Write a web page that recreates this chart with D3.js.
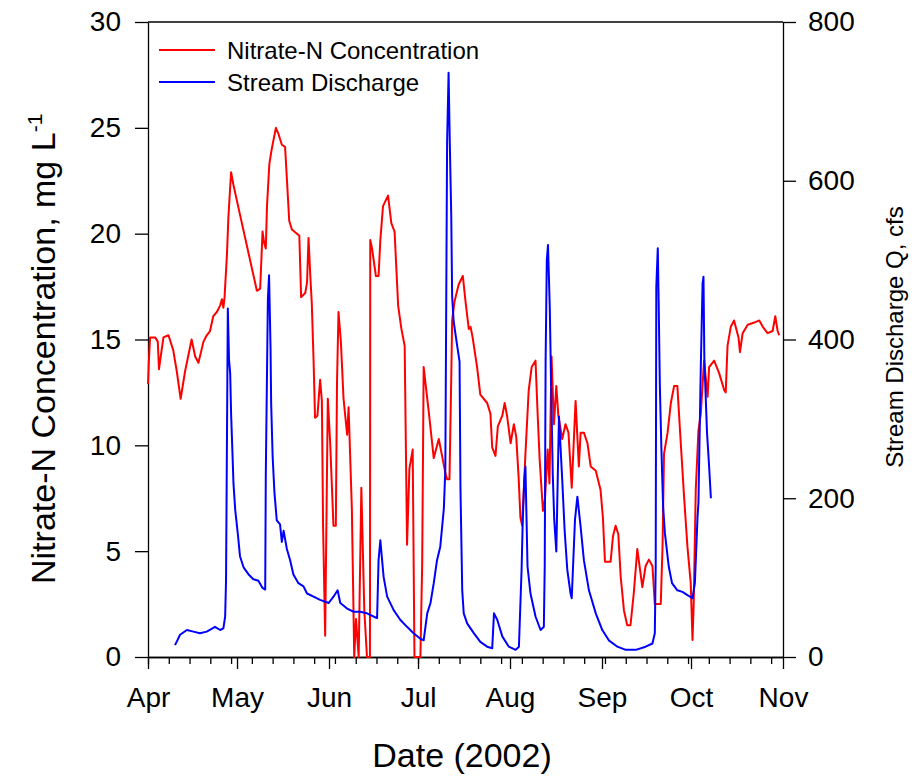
<!DOCTYPE html>
<html>
<head>
<meta charset="utf-8">
<script src="https://cdn.jsdelivr.net/npm/d3@7"></script>
<style>
  body { margin: 0; background: #fff; }
  svg text { font-family: "Liberation Sans", Arial, sans-serif; fill: #000; }
  .axis path, .axis line { stroke: #000; stroke-width: 1.3px; }
</style>
</head>
<body>
<div id="chart"></div>
<script>

// [day of year 2002, nitrate-N mg/L]
const nitrate = [
  [91.0,12.9],[91.3,14.0],[91.7,15.1],[93.4,15.1],[94.3,14.9],[94.7,13.6],[96.2,15.1],[97.9,15.2],
  [99.5,14.5],[100.7,13.5],[102.0,12.2],[103.5,13.5],[105.7,15.0],[106.9,14.2],[108.0,13.9],[109.7,14.9],
  [110.8,15.2],[111.9,15.4],[113.0,16.1],[114.2,16.3],[115.3,16.6],[115.9,16.9],[116.4,16.5],[116.8,17.0],
  [117.6,19.0],[118.1,20.8],[119.0,22.9],[119.8,22.3],[122.0,20.9],[125.0,19.0],[127.7,17.3],[128.8,17.4],
  [129.6,20.1],[130.1,19.6],[130.7,19.3],[131.1,21.3],[131.9,23.3],[132.7,24.0],[134.1,25.0],[135.0,24.7],
  [136.1,24.2],[137.2,24.1],[138.6,20.6],[139.5,20.2],[141.2,20.0],[142.0,19.9],[142.6,17.0],[144.0,17.2],
  [144.6,17.7],[145.1,19.8],[145.7,18.0],[146.2,16.7],[146.8,14.0],[147.3,11.3],[148.1,11.4],[149.0,13.1],
  [149.6,12.1],[150.0,6.2],[150.7,1.0],[151.6,12.2],[152.4,10.1],[153.5,6.2],[154.3,6.2],[154.7,13.0],
  [155.2,16.3],[156.0,14.9],[156.9,12.2],[158.1,10.5],[158.6,11.8],[159.7,7.0],[160.5,0.0],[161.1,1.8],
  [162.0,0.0],[162.9,8.0],[163.9,2.2],[164.8,0.0],[165.8,0.0],[165.9,19.7],[166.5,19.3],[167.8,18.0],
  [168.7,18.0],[169.3,19.7],[170.2,21.3],[171.9,21.8],[173.0,20.5],[174.1,20.1],[175.3,16.6],[176.4,15.5],
  [177.5,14.7],[178.3,5.3],[179.1,8.9],[180.2,9.8],[180.8,0.0],[182.8,0.0],[183.4,4.4],[183.9,13.7],
  [185.6,11.6],[187.3,9.4],[189.0,10.3],[190.1,9.5],[191.2,8.7],[191.8,8.4],[192.6,8.4],[193.2,13.2],
  [193.5,15.9],[194.3,16.8],[195.7,17.6],[197.1,18.0],[198.0,16.8],[199.1,15.5],[199.7,15.6],[200.4,15.1],
  [201.9,13.7],[203.0,12.4],[205.3,12.0],[206.4,11.5],[207.0,9.9],[208.1,9.5],[208.9,10.9],[210.4,11.4],
  [211.2,12.0],[212.0,11.4],[213.2,10.1],[214.3,11.0],[215.1,10.4],[215.9,8.5],[216.5,6.6],[217.1,6.2],
  [218.2,9.6],[219.3,12.6],[220.3,13.7],[221.6,14.0],[222.3,11.5],[223.0,9.3],[224.1,6.9],[224.8,7.5],
  [225.7,9.8],[226.3,8.2],[227.0,14.2],[227.8,11.0],[228.6,12.8],[229.3,11.4],[230.6,10.3],[231.7,11.0],
  [232.7,10.6],[233.8,8.0],[235.1,12.1],[236.2,9.0],[236.8,10.6],[237.9,10.6],[239.1,10.1],[240.2,9.0],
  [241.9,8.8],[243.5,7.9],[244.3,6.6],[245.0,4.5],[246.9,4.5],[247.7,5.7],[248.6,6.2],[249.5,5.8],
  [250.3,3.8],[251.4,2.2],[252.5,1.5],[253.6,1.5],[254.7,3.0],[255.9,5.1],[257.6,3.3],[258.7,4.3],
  [259.8,4.6],[261.0,4.3],[261.8,2.5],[263.8,2.5],[264.4,5.2],[264.9,9.6],[266.1,10.6],[267.2,12.0],
  [268.3,12.8],[269.4,12.8],[270.2,10.9],[271.6,7.7],[272.8,5.2],[273.9,3.5],[274.5,0.8],[274.9,2.5],
  [275.6,7.9],[276.5,10.7],[277.3,11.5],[278.4,14.0],[279.6,12.3],[280.1,13.7],[281.8,14.0],[283.5,13.4],
  [285.2,12.6],[285.7,12.5],[286.3,14.7],[287.4,15.6],[288.5,15.9],[290.0,15.1],[290.5,14.4],[291.4,15.3],
  [293.1,15.7],[295.3,15.8],[297.0,15.9],[298.2,15.6],[299.8,15.3],[301.5,15.4],[302.4,16.1],[303.2,15.4],
  [303.7,15.2]
];

// [day of year 2002, discharge cfs]
const discharge = [
  [100.1,15],[100.9,21],[101.8,28],[104.1,34],[106.3,32],[108.5,30],[110.8,32],[113.6,38],
  [115.3,34],[116.4,36],[117.0,51],[117.3,97],[117.9,439],[118.3,375],[118.7,357],[119.0,307],
  [119.5,253],[119.8,219],[120.4,185],[121.3,154],[122.0,127],[123.2,113],[124.9,104],[126.5,98],
  [128.2,96],[129.6,87],[130.5,85],[130.7,231],[131.4,451],[131.8,481],[132.3,388],[132.5,320],
  [133.0,253],[133.6,208],[134.4,172],[135.5,167],[136.1,145],[136.7,159],[137.8,136],[138.9,122],
  [140.0,104],[141.7,93],[143.4,89],[144.6,80],[146.8,76],[149.0,72],[151.9,68],[153.5,76],
  [154.9,84],[155.8,68],[158.1,61],[160.3,57],[162.5,57],[164.8,55],[167.0,51],[168.2,49],
  [168.7,122],[169.3,147],[170.4,101],[171.6,76],[173.8,59],[176.0,47],[178.3,38],[180.5,30],
  [182.8,23],[183.9,21],[185.1,55],[186.2,68],[187.3,93],[188.4,122],[189.5,139],[190.7,187],
  [191.2,236],[191.8,649],[192.3,736],[192.7,649],[193.2,556],[193.5,454],[194.0,423],[195.2,392],
  [196.0,372],[196.3,213],[196.9,84],[197.4,55],[198.6,42],[200.8,30],[203.0,19],[205.3,13],
  [207.0,11],[207.6,55],[208.7,47],[210.4,26],[212.6,13],[214.9,9],[216.0,13],[216.9,110],
  [217.3,173],[217.8,223],[218.2,240],[218.9,114],[219.9,80],[221.6,51],[223.3,34],[224.4,38],
  [224.7,114],[225.0,374],[225.4,500],[225.8,519],[226.4,441],[226.8,353],[227.4,231],[227.9,173],
  [228.6,133],[229.5,303],[230.6,223],[231.4,160],[232.3,110],[233.4,80],[233.8,74],[234.9,173],
  [235.7,202],[236.8,164],[237.9,122],[239.6,84],[241.9,55],[244.1,34],[246.3,21],[249.2,13],
  [252.0,9],[255.4,9],[258.7,13],[261.0,17],[261.8,30],[262.1,114],[262.3,466],[262.8,515],
  [263.1,446],[263.5,341],[264.0,265],[264.6,189],[265.2,156],[266.5,114],[267.6,93],[269.4,84],
  [271.1,82],[272.8,78],[274.5,74],[275.3,93],[276.2,177],[276.5,194],[277.3,366],[277.9,471],
  [278.2,479],[278.5,374],[279.4,282],[280.1,240],[280.7,200]
];

const nitrateTicks = [0, 5, 10, 15, 20, 25, 30];
const dischargeTicks = [0, 200, 400, 600, 800];
const seriesNames = ["Nitrate-N Concentration", "Stream Discharge"];
const seriesColors = ["#ff0000", "#0000ff"];


class DualAxisChart {

  constructor(_parentElement) {
    this.parentElement = _parentElement;
    this.initVis();
  }

  initVis() {
    let vis = this;

    vis.width = 916;
    vis.height = 776;
    vis.left = 148; vis.right = 783; vis.top = 22; vis.bottom = 657;

    vis.svg = d3.select(vis.parentElement).append("svg")
      .attr("width", vis.width)
      .attr("height", vis.height);

    vis.start = new Date(Date.UTC(2002, 3, 1));
    vis.end = new Date(Date.UTC(2002, 10, 1));

    vis.x = d3.scaleUtc().domain([vis.start, vis.end]).range([vis.left, vis.right]);
    vis.yN = d3.scaleLinear().domain([0, 30]).range([vis.bottom, vis.top]);
    vis.yQ = d3.scaleLinear().domain([0, 800]).range([vis.bottom, vis.top]);

    vis.wrangleData();
  }

  wrangleData() {
    let vis = this;
    let jan1 = Date.UTC(2002, 0, 1);
    let toDate = doy => new Date(jan1 + (doy - 1) * 864e5);

    vis.nitrateData = nitrate.map(d => ({date: toDate(d[0]), value: d[1]}));
    vis.dischargeData = discharge.map(d => ({date: toDate(d[0]), value: d[1]}));

    vis.updateVis();
  }

  updateVis() {
    let vis = this;

    // frame top
    vis.svg.append("line")
      .attr("x1", vis.left).attr("x2", vis.right)
      .attr("y1", vis.top).attr("y2", vis.top)
      .attr("stroke", "#000").attr("stroke-width", 1.3);

    // weekly minor ticks
    vis.svg.append("g")
      .attr("class", "axis")
      .attr("transform", `translate(0,${vis.bottom})`)
      .call(d3.axisBottom(vis.x)
        .tickValues(d3.utcMonday.range(vis.start, vis.end))
        .tickSize(7).tickSizeOuter(0).tickFormat(""));

    vis.svg.append("g")
      .attr("class", "axis x-axis")
      .attr("transform", `translate(0,${vis.bottom})`)
      .call(d3.axisBottom(vis.x)
        .tickValues(d3.utcMonth.range(vis.start, d3.utcDay.offset(vis.end, 1)))
        .tickFormat(d3.utcFormat("%b"))
        .tickSize(12).tickSizeOuter(0).tickPadding(18));

    vis.svg.append("g")
      .attr("class", "axis y-left")
      .attr("transform", `translate(${vis.left},0)`)
      .call(d3.axisLeft(vis.yN).tickValues(nitrateTicks)
        .tickSize(13).tickSizeOuter(0).tickPadding(14));

    vis.svg.append("g")
      .attr("class", "axis y-right")
      .attr("transform", `translate(${vis.right},0)`)
      .call(d3.axisRight(vis.yQ).tickValues(dischargeTicks)
        .tickSize(13).tickSizeOuter(0).tickPadding(12));

    vis.svg.selectAll(".axis text")
      .style("font-size", "28px")
      .style("font-family", "'Liberation Sans', Arial, sans-serif");

    // series
    let lineN = d3.line().x(d => vis.x(d.date)).y(d => vis.yN(d.value));
    let lineQ = d3.line().x(d => vis.x(d.date)).y(d => vis.yQ(d.value));

    vis.svg.append("path")
      .datum(vis.nitrateData)
      .attr("fill", "none")
      .attr("stroke", seriesColors[0])
      .attr("stroke-width", 2)
      .attr("stroke-linejoin", "round")
      .attr("d", lineN);

    vis.svg.append("path")
      .datum(vis.dischargeData)
      .attr("fill", "none")
      .attr("stroke", seriesColors[1])
      .attr("stroke-width", 2)
      .attr("stroke-linejoin", "round")
      .attr("d", lineQ);

    // axis titles
    vis.svg.append("text")
      .attr("transform", "translate(55,0) rotate(-90)")
      .attr("x", -584)
      .style("font-size", "34px")
      .text("Nitrate-N Concentration, mg L")
      .append("tspan")
      .attr("dy", -13)
      .style("font-size", "21px")
      .text("-1");

    vis.svg.append("text")
      .attr("transform", "translate(903,0) rotate(-90)")
      .attr("x", -337)
      .attr("text-anchor", "middle")
      .style("font-size", "24px")
      .text("Stream Discharge Q, cfs");

    vis.svg.append("text")
      .attr("x", 462).attr("y", 767)
      .attr("text-anchor", "middle")
      .style("font-size", "34px")
      .text("Date (2002)");

    // legend
    let legend = vis.svg.append("g").attr("class", "legend");

    legend.selectAll("line")
      .data(seriesNames)
      .enter().append("line")
      .attr("x1", 159).attr("x2", 215)
      .attr("y1", (d, i) => 50 + i * 32)
      .attr("y2", (d, i) => 50 + i * 32)
      .attr("stroke", (d, i) => seriesColors[i])
      .attr("stroke-width", 2);

    legend.selectAll("text")
      .data(seriesNames)
      .enter().append("text")
      .attr("x", 227)
      .attr("y", (d, i) => 59 + i * 32)
      .style("font-size", "24px")
      .text(d => d);
  }
}

new DualAxisChart("#chart");

</script>
</body>
</html>
